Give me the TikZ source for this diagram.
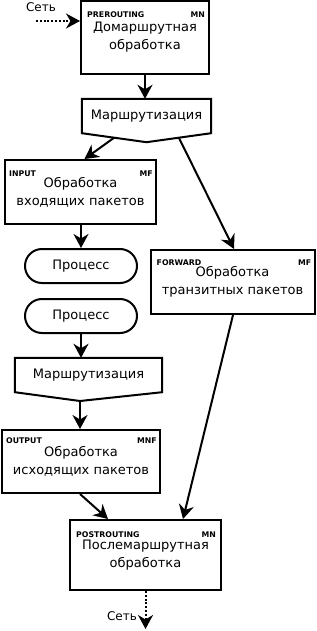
\documentclass[tikz,border=0pt]{standalone}
\usepackage{fontspec}
\setmainfont{DejaVu Sans}
\usetikzlibrary{arrows.meta,positioning,calc}

\newcommand{\mainsize}{\fontsize{13}{18}\selectfont}
\newcommand{\tagsize}{\fontsize{7.8}{9}\selectfont\bfseries}

\tikzset{
  box/.style={draw, line width=2pt, align=center, inner sep=0pt, font=\mainsize},
  routebox/.style={align=center, inner sep=0pt, font=\mainsize},
  procbox/.style={box, rounded corners=17pt},
  tag/.style={inner sep=0pt, font=\tagsize},
  flow/.style={line width=2pt, -{Stealth[length=14pt, width=15pt, inset=4.5pt]}},
  net/.style={flow, dash pattern=on 2pt off 1.8pt},
  netlabel/.style={inner sep=0pt, font=\fontsize{12}{14}\selectfont}
}

\begin{document}
\begin{tikzpicture}[x=1pt, y=-1pt]
    \useasboundingbox (0,0) rectangle (316,631);

    % Pre-routing
    \node[box, minimum width=128pt, minimum height=73pt] (pre) at (145,37.5) {Домаршрутная\\обработка};
    \node[tag, anchor=base west] (pretag) at ($(pre.north west)+(7,18)$) {PREROUTING};
    \node[tag, anchor=base east] (premn) at ($(pre.north east)+(-5,18)$) {MN};

    % Incoming from network
    \coordinate (netin) at (36,21);
    \draw[net] (netin) -- (netin -| pre.west);
    \node[netlabel] (netinlabel) at (41,7) {Сеть};

    % First routing decision
    \node[routebox, minimum width=129pt, minimum height=34pt] (route1) at (146.5,116) {Маршрутизация};
    \coordinate (tip1) at ($(route1.south)+(0,9)$);
    \draw[line width=2pt] (route1.north west) -- (route1.north east) -- (route1.south east) -- (tip1) -- (route1.south west) -- cycle;
    \draw[flow] (pre.south) -- (pre.south |- route1.north);

    % Input
    \node[box, minimum width=151pt, minimum height=64pt] (inp) at (80.5,192) {Обработка\\входящих пакетов};
    \node[tag, anchor=base west] (inptag) at ($(inp.north west)+(5,18)$) {INPUT};
    \node[tag, anchor=base east] (inpmf) at ($(inp.north east)+(-4,18)$) {MF};
    \draw[flow] ($(route1.south west)!0.5!(tip1)$) -- ($(inp.north)+(4,0)$);

    % Forward
    \node[box, minimum width=164pt, minimum height=64pt] (fwd) at (232.5,282) {Обработка\\транзитных пакетов};
    \node[tag, anchor=base west] (fwdtag) at ($(fwd.north west)+(7,16)$) {FORWARD};
    \node[tag, anchor=base east] (fwdmf) at ($(fwd.north east)+(-4,16)$) {MF};
    \draw[flow] ($(tip1)!0.5!(route1.south east)$) -- ($(fwd.north)+(1.5,0)$);

    % Local processes
    \node[procbox, minimum width=112pt, minimum height=34pt] (proc1) at (81,266) {Процесс};
    \node[procbox, minimum width=112pt, minimum height=34pt] (proc2) at (81,316) {Процесс};
    \draw[flow] (inp.south -| proc1.north) -- (proc1.north);

    % Second routing decision
    \node[routebox, minimum width=147pt, minimum height=34pt] (route2) at (88.5,375) {Маршрутизация};
    \coordinate (tip2) at (80,401);
    \draw[line width=2pt] (route2.north west) -- (route2.north east) -- (route2.south east) -- (tip2) -- (route2.south west) -- cycle;
    \draw[flow] (proc2.south) -- (proc2.south |- route2.north);

    % Output
    \node[box, minimum width=158pt, minimum height=63pt] (out) at (81,461.5) {Обработка\\исходящих пакетов};
    \node[tag, anchor=base west] (outtag) at ($(out.north west)+(5,14)$) {OUTPUT};
    \node[tag, anchor=base east] (outmnf) at ($(out.north east)+(-4,14)$) {MNF};
    \draw[flow] (tip2) -- (tip2 |- out.north);

    % Post-routing
    \node[box, minimum width=151pt, minimum height=70pt] (post) at (145.5,555) {Послемаршрутная\\обработка};
    \node[tag, anchor=base west] (posttag) at ($(post.north west)+(7,18)$) {POSTROUTING};
    \node[tag, anchor=base east] (postmn) at ($(post.north east)+(-6,18)$) {MN};
    \draw[flow] ($(out.south)+(-1,0)$) -- ($(post.north)+(-37.5,0)$);
    \draw[flow] ($(fwd.south)+(0.5,0)$) -- ($(post.north)+(37.5,0)$);

    % Out to network
    \coordinate (netout) at (post.south |- 0,629);
    \draw[net] (post.south) -- (netout);
    \node[netlabel] (netoutlabel) at (122,616) {Сеть};
\end{tikzpicture}
\end{document}
